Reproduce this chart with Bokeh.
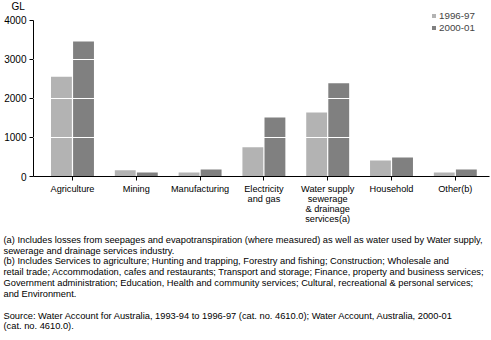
from bokeh.plotting import figure
from bokeh.models import (ColumnDataSource, Range1d, FixedTicker, Legend, LegendItem, Title)
from bokeh.transform import dodge
from bokeh.embed import file_html
from bokeh.resources import INLINE

categories = ["Agriculture", "Mining", "Manufacturing", "Electricity\nand gas",
              "Water supply\nsewerage\n& drainage\nservices(a)", "Household", "Other(b)"]
y1996 = [2560, 160, 100, 750, 1640, 410, 100]
y2000 = [3460, 100, 180, 1510, 2390, 490, 180]
series_names = ["1996-97", "2000-01"]
y_ticks = [0, 1000, 2000, 3000, 4000]
unit_label = "GL"
notes = [
    "(a) Includes losses from seepages and evapotranspiration (where measured) as well as water used by Water supply,",
    "sewerage and drainage services industry.",
    "(b) Includes Services to agriculture; Hunting and trapping, Forestry and fishing; Construction; Wholesale and",
    "retail trade; Accommodation, cafes and restaurants; Transport and storage; Finance, property and business services;",
    "Government administration; Education, Health and community services; Cultural, recreational & personal services;",
    "and Environment.",
    "",
    "Source: Water Account for Australia, 1993-94 to 1996-97 (cat. no. 4610.0); Water Account, Australia, 2000-01",
    "(cat. no. 4610.0).",
]

FONT = "Liberation Sans"
C1 = "#b3b3b3"
C2 = "#808080"

idx = list(range(len(categories)))
src = ColumnDataSource(dict(x=idx, a=y1996, b=y2000))

p = figure(width=491, height=340, output_backend="svg", toolbar_location=None,
           x_range=Range1d(-0.611, 6.536), y_range=Range1d(0, 4333),
           min_border_left=33, min_border_right=2, min_border_top=7, min_border_bottom=164)
p.outline_line_color = None

r1 = p.vbar(x=dodge("x", -0.173, range=p.x_range), top="a", width=0.327, source=src,
            fill_color=C1, line_color=None)
r2 = p.vbar(x=dodge("x", 0.173, range=p.x_range), top="b", width=0.327, source=src,
            fill_color=C2, line_color=None)

# title used as unit label
p.title.text = unit_label
p.title.align = "left"
p.title.offset = -22
p.title.standoff = -8
p.title.text_font = FONT
p.title.text_font_size = "10px"
p.title.text_font_style = "normal"
p.title.text_color = "black"

# axes
p.xaxis.ticker = FixedTicker(ticks=idx)
p.xaxis.major_label_overrides = {i: c for i, c in zip(idx, categories)}
p.xaxis.major_tick_in = 0
p.xaxis.major_tick_out = 4
p.xaxis.minor_tick_line_color = None
p.xaxis.major_label_standoff = 3
p.xaxis.major_label_text_font = FONT
p.xaxis.major_label_text_font_size = "9.2px"
p.xaxis.major_label_text_line_height = 1.0
p.xaxis.major_label_text_color = "black"
p.xaxis.axis_line_color = "black"

p.yaxis.ticker = FixedTicker(ticks=y_ticks)
p.yaxis.bounds = (0, 4000)
p.yaxis.major_tick_in = 0
p.yaxis.major_tick_out = 4
p.yaxis.minor_tick_line_color = None
p.yaxis.major_label_standoff = 3
p.yaxis.major_label_text_font = FONT
p.yaxis.major_label_text_font_size = "10px"
p.yaxis.major_label_text_color = "black"
p.yaxis.axis_line_color = "black"

p.xgrid.visible = False
p.ygrid.ticker = FixedTicker(ticks=[1000, 2000, 3000])
p.ygrid.grid_line_color = "white"
p.ygrid.grid_line_width = 1
p.ygrid.level = "overlay"

legend = Legend(items=[LegendItem(label=series_names[0], renderers=[r1]),
                       LegendItem(label=series_names[1], renderers=[r2])],
                location=(398, 143), orientation="vertical")
legend.border_line_color = None
legend.background_fill_alpha = 0
legend.padding = 0
legend.margin = 0
legend.spacing = 1
legend.glyph_width = 5
legend.glyph_height = 5
legend.label_height = 10
legend.label_standoff = 3
legend.label_text_font = FONT
legend.label_text_font_size = "9.8px"
legend.label_text_baseline = "middle"
p.add_layout(legend, "center")

p.add_layout(Title(text="\n".join(notes), align="left", offset=-30, standoff=12,
                   vertical_align="bottom", text_font=FONT, text_font_size="9.3px",
                   text_line_height=1.085, text_font_style="normal", text_color="black"),
             "below")

open("out.html", "w").write(file_html(p, INLINE))
